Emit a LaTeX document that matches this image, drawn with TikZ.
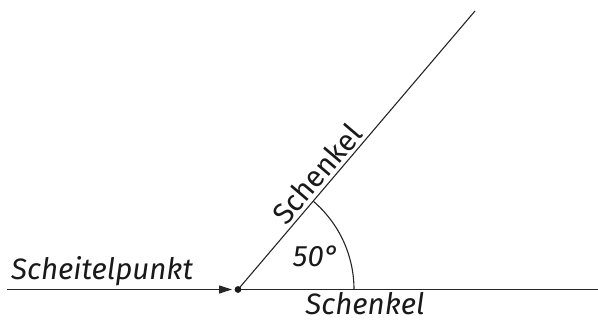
\documentclass[tikz,border=0pt]{standalone}
\usepackage{fontspec}
\setmainfont{Fira Sans}
\usetikzlibrary{arrows.meta}
\begin{document}
\begin{tikzpicture}[x=1pt,y=-1pt,
  ray/.style={line width=1.1pt,draw=black!85},
  lbl/.style={font=\fontsize{29.5}{32}\selectfont\itshape,text=black!90,inner sep=0pt},
  lblup/.style={font=\fontsize{29.5}{32}\selectfont,text=black!90,inner sep=0pt}]
\useasboundingbox (0,0) rectangle (598,323);
\coordinate (V) at (238,289.5);
\coordinate (R) at (475,11);
\coordinate (H) at (598,289.5);
\coordinate (S) at (7,289.5);
\draw[ray] (V) -- (R) node[lblup,pos=0.38,sloped,anchor=base,yshift=4pt] (s2) {Schenkel};
\draw[ray] (V) -- (H);
\draw[ray,-{Triangle[length=13pt,width=8pt]}] (S) -- ([xshift=-6pt]V);
\fill[black!90] (V) circle (3.4pt);
\draw[ray] (354,289.5) arc[start angle=0,end angle=-49.5,radius=116];
\node[lbl,anchor=base west] (sp) at (11,280) {Scheitelpunkt};
\node[lbl,anchor=base] (s1) at (365,315) {Schenkel};
\node[lbl,anchor=base] (a) at (316,267) {50°};
\end{tikzpicture}
\end{document}
